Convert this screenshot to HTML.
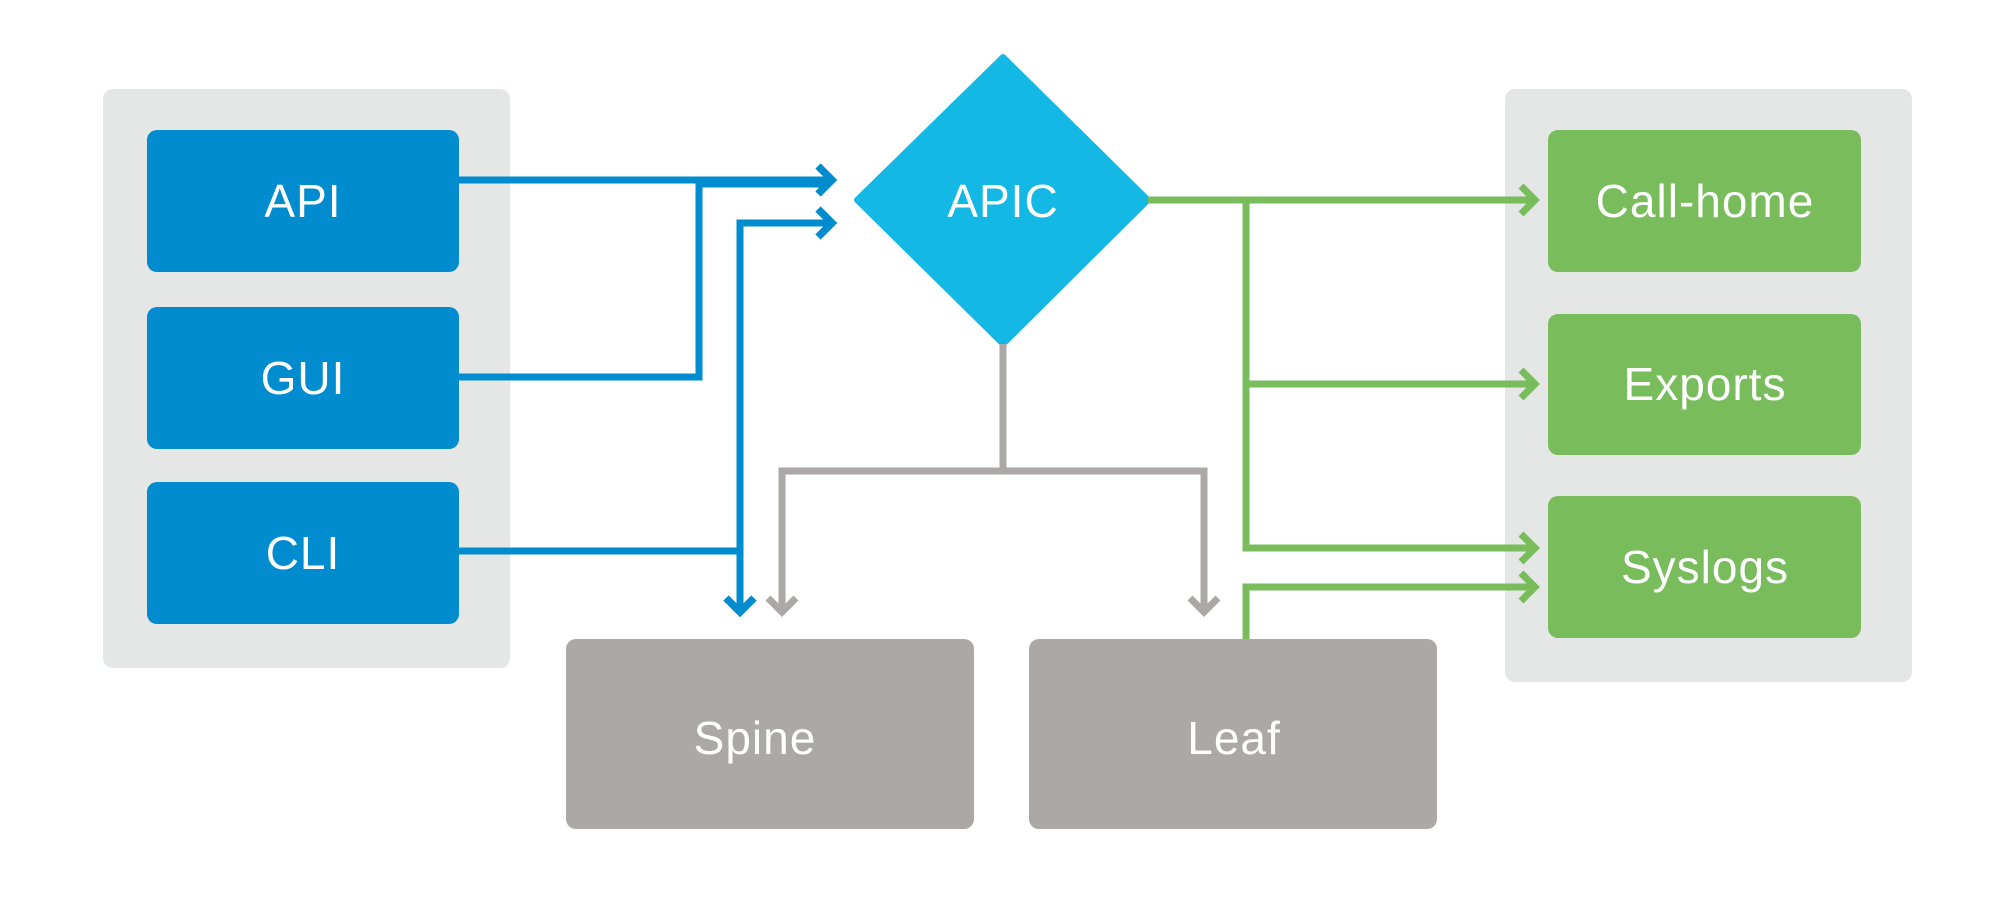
<!DOCTYPE html>
<html><head><meta charset="utf-8"><style>
html,body{margin:0;padding:0;background:#fff;}
svg{display:block;}
text{font-family:"Liberation Sans",sans-serif;font-size:46px;letter-spacing:1px;fill:#fff;text-anchor:middle;dominant-baseline:central;}
</style></head><body>
<svg width="2000" height="906" viewBox="0 0 2000 906">
<rect x="103" y="89" width="407" height="579" rx="10" fill="#e5e6e6"/>
<rect x="1505" y="89" width="407" height="593" rx="10" fill="#e5e6e6"/>
<g fill="#008ccf">
<rect x="147" y="130" width="312" height="142" rx="10"/>
<rect x="147" y="307" width="312" height="142" rx="10"/>
<rect x="147" y="482" width="312" height="142" rx="10"/>
</g>
<text x="303" y="201">API</text><text x="303" y="378">GUI</text><text x="303" y="553">CLI</text>
<g fill="#79bc5b">
<rect x="1548" y="130" width="313" height="142" rx="10"/>
<rect x="1548" y="314" width="313" height="141" rx="10"/>
<rect x="1548" y="496" width="313" height="142" rx="10"/>
</g>
<text x="1705" y="201">Call-home</text><text x="1705" y="384">Exports</text><text x="1705" y="567">Syslogs</text>
<g fill="#aba8a7">
<rect x="566" y="639" width="408" height="190" rx="10"/>
<rect x="1029" y="639" width="408" height="190" rx="10"/>
</g>
<text x="755" y="738">Spine</text><text x="1234" y="738">Leaf</text>
<polygon points="1003,57 1148,200 1003,344 857,200" fill="#14b8e4" stroke="#14b8e4" stroke-width="6" stroke-linejoin="round"/>
<text x="1003" y="201">APIC</text>
<g fill="none" stroke="#008ccf" stroke-width="7">
<polyline points="459,180 830,180"/>
<polyline points="459,377 699,377 699,184 830,184"/>
<polyline points="459,551 740,551"/>
<polyline points="830,223 740,223 740,608"/>
</g>
<g fill="none" stroke="#008ccf" stroke-width="7.5">
<polyline points="818,166 832,180 818,194"/>
<polyline points="818,209 832,223 818,237"/>
<polyline points="726,598 740,612 754,598"/>
</g>
<g fill="none" stroke="#aba8a7" stroke-width="7">
<polyline points="1003,344 1003,471"/>
<polyline points="782,610 782,471 1204,471 1204,610"/>
<polyline points="768,598 782,612 796,598"/>
<polyline points="1190,598 1204,612 1218,598"/>
</g>
<g fill="none" stroke="#79bc5b" stroke-width="7">
<polyline points="1148,200 1535,200"/>
<polyline points="1246,200 1246,548 1535,548"/>
<polyline points="1246,384 1535,384"/>
<polyline points="1246,639 1246,587 1535,587"/>
<polyline points="1521,186 1535,200 1521,214"/>
<polyline points="1521,370 1535,384 1521,398"/>
<polyline points="1521,534 1535,548 1521,562"/>
<polyline points="1521,573 1535,587 1521,601"/>
</g>
</svg>
</body></html>
